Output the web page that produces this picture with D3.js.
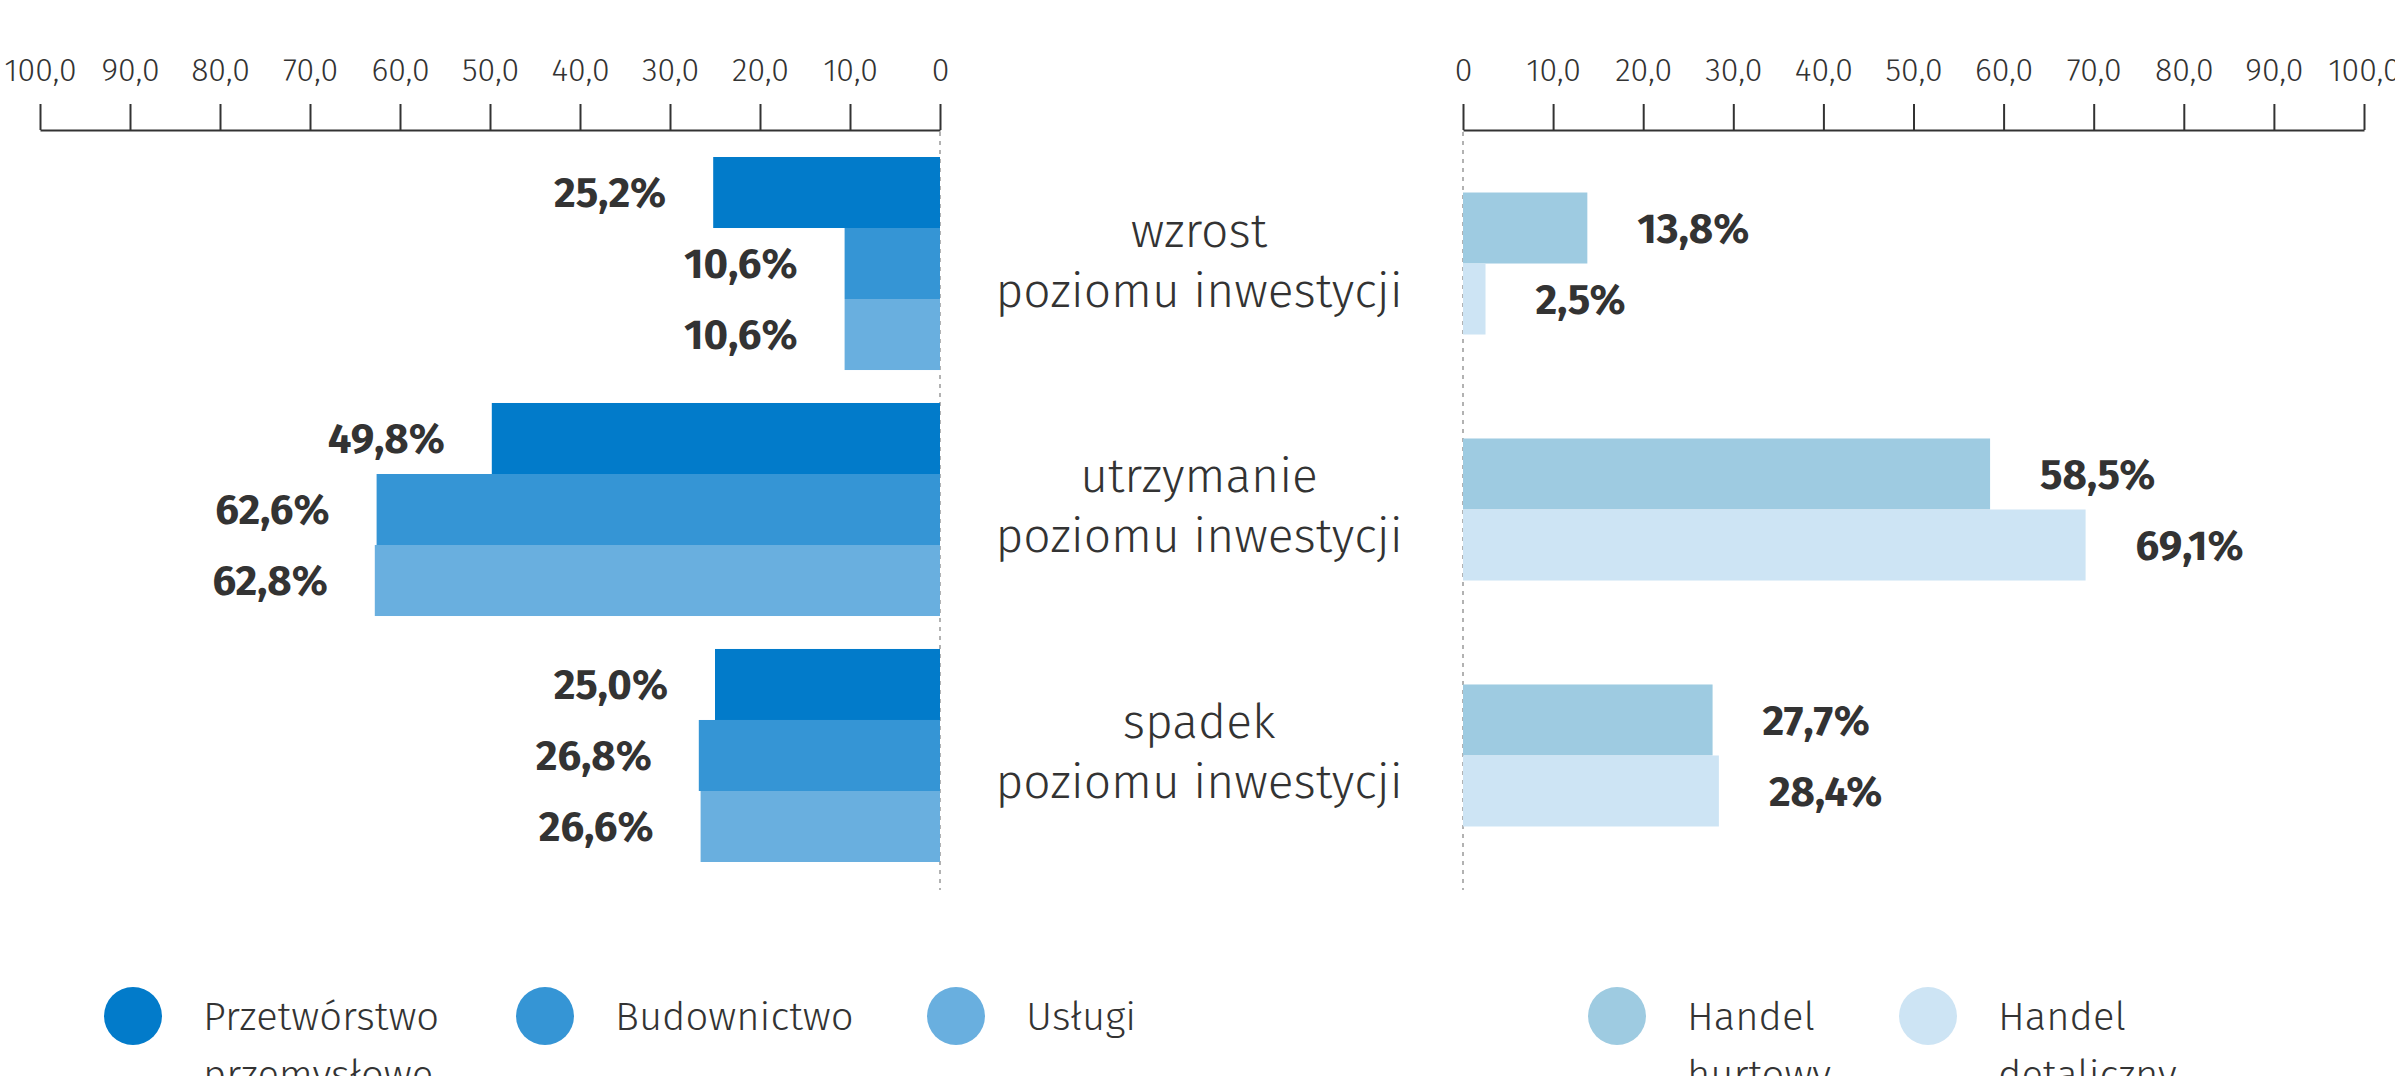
<!DOCTYPE html>
<html>
<head>
<meta charset="utf-8">
<script src="https://cdn.jsdelivr.net/npm/d3@7"></script>
<style>
  body { margin: 0; background: #fff; }
  text { font-family: "Fira Sans", Roboto, "Open Sans", sans-serif; fill: #333; }
</style>
</head>
<body>
<div id="vis"></div>
<script>
const width = 2395;
const height = 1076;

const categories = ["wzrost", "utrzymanie", "spadek"];
const categoryLines = [
    ["wzrost", "poziomu inwestycji"],
    ["utrzymanie", "poziomu inwestycji"],
    ["spadek", "poziomu inwestycji"]
];
const przetworstwo = [25.2, 49.8, 25.0];
const budownictwo = [10.6, 62.6, 26.8];
const uslugi = [10.6, 62.8, 26.6];
const handelHurtowy = [13.8, 58.5, 27.7];
const handelDetaliczny = [2.5, 69.1, 28.4];
const tickValues = [0, 10, 20, 30, 40, 50, 60, 70, 80, 90, 100];

const leftSeries = [
    { name: "Przetwórstwo przemysłowe", lines: ["Przetwórstwo", "przemysłowe"], values: przetworstwo, color: "#027bca" },
    { name: "Budownictwo", lines: ["Budownictwo"], values: budownictwo, color: "#3595d5" },
    { name: "Usługi", lines: ["Usługi"], values: uslugi, color: "#69afdf" }
];
const rightSeries = [
    { name: "Handel hurtowy", lines: ["Handel", "hurtowy"], values: handelHurtowy, color: "#9ecbe1" },
    { name: "Handel detaliczny", lines: ["Handel", "detaliczny"], values: handelDetaliczny, color: "#cde4f4" }
];

const fmt = v => v === 0 ? "0" : v.toFixed(1).replace(".", ",");
const fmtPct = v => v.toFixed(1).replace(".", ",") + "%";

const svg = d3.select("#vis").append("svg")
    .attr("width", width)
    .attr("height", height);

const xLeft = d3.scaleLinear().domain([0, 100]).range([940, 40]);
const xRight = d3.scaleLinear().domain([0, 100]).range([1463, 2364]);

const yGroup = d3.scaleBand()
    .domain(categories)
    .range([157, 862])
    .paddingInner(0.134)
    .paddingOuter(0);

const bw = yGroup.bandwidth();
const yLeft = d3.scaleBand().domain(leftSeries.map(s => s.name)).range([0, bw]);
const barH = yLeft.bandwidth();
const yRight = d3.scaleBand().domain(rightSeries.map(s => s.name))
    .range([bw / 2 - barH, bw / 2 + barH]);

// axes
function drawAxis(scale) {
    const g = svg.append("g")
        .attr("class", "axis")
        .attr("transform", "translate(0,130)")
        .call(d3.axisTop(scale)
            .tickValues(tickValues)
            .tickFormat(fmt)
            .tickSize(26)
            .tickSizeOuter(0)
            .tickPadding(23));
    g.select(".domain").attr("stroke", "#333").attr("stroke-width", 2);
    g.selectAll(".tick line").attr("stroke", "#333").attr("stroke-width", 2);
    g.selectAll(".tick text")
        .style("font-size", "32px")
        .style("font-weight", 300)
        .attr("fill", "#333");
}
drawAxis(xLeft);
drawAxis(xRight);

// dotted zero lines
[xLeft(0), xRight(0)].forEach(x => {
    svg.append("line")
        .attr("x1", x).attr("x2", x)
        .attr("y1", 132).attr("y2", 890)
        .attr("stroke", "#999")
        .attr("stroke-width", 1.5)
        .attr("stroke-dasharray", "4,5");
});

// bars
const groups = svg.selectAll(".group")
    .data(categories)
    .enter().append("g")
    .attr("class", "group")
    .attr("transform", d => `translate(0,${yGroup(d)})`);

groups.each(function (cat, i) {
    const g = d3.select(this);
    leftSeries.forEach(s => {
        const v = s.values[i];
        g.append("rect")
            .attr("x", xLeft(v))
            .attr("y", yLeft(s.name))
            .attr("width", xLeft(0) - xLeft(v))
            .attr("height", barH)
            .attr("fill", s.color);
        g.append("text")
            .attr("x", xLeft(v) - 47)
            .attr("y", yLeft(s.name) + barH / 2)
            .attr("dy", "0.35em")
            .attr("text-anchor", "end")
            .style("font-size", "42px")
            .style("font-weight", 700)
            .text(fmtPct(v));
    });
    rightSeries.forEach(s => {
        const v = s.values[i];
        g.append("rect")
            .attr("x", xRight(0))
            .attr("y", yRight(s.name))
            .attr("width", xRight(v) - xRight(0))
            .attr("height", barH)
            .attr("fill", s.color);
        g.append("text")
            .attr("x", xRight(v) + 50)
            .attr("y", yRight(s.name) + barH / 2)
            .attr("dy", "0.35em")
            .attr("text-anchor", "start")
            .style("font-size", "42px")
            .style("font-weight", 700)
            .text(fmtPct(v));
    });
    const lbl = g.append("text")
        .attr("text-anchor", "middle")
        .style("font-size", "48px")
        .style("font-weight", 300);
    categoryLines[i].forEach((line, k) => {
        lbl.append("tspan")
            .attr("x", 1199)
            .attr("y", bw / 2 - 17 + k * 60)
            .text(line);
    });
});

// legend
const legendItems = [
    { s: leftSeries[0], cx: 133 },
    { s: leftSeries[1], cx: 545 },
    { s: leftSeries[2], cx: 956 },
    { s: rightSeries[0], cx: 1617 },
    { s: rightSeries[1], cx: 1928 }
];
const legend = svg.append("g").attr("class", "legend");
legendItems.forEach(item => {
    legend.append("circle")
        .attr("cx", item.cx)
        .attr("cy", 1016)
        .attr("r", 29)
        .attr("fill", item.s.color);
    const t = legend.append("text")
        .style("font-size", "40px")
        .style("font-weight", 300);
    item.s.lines.forEach((line, k) => {
        t.append("tspan")
            .attr("x", item.cx + 70)
            .attr("y", 1030 + k * 58)
            .text(line);
    });
});
</script>
</body>
</html>
